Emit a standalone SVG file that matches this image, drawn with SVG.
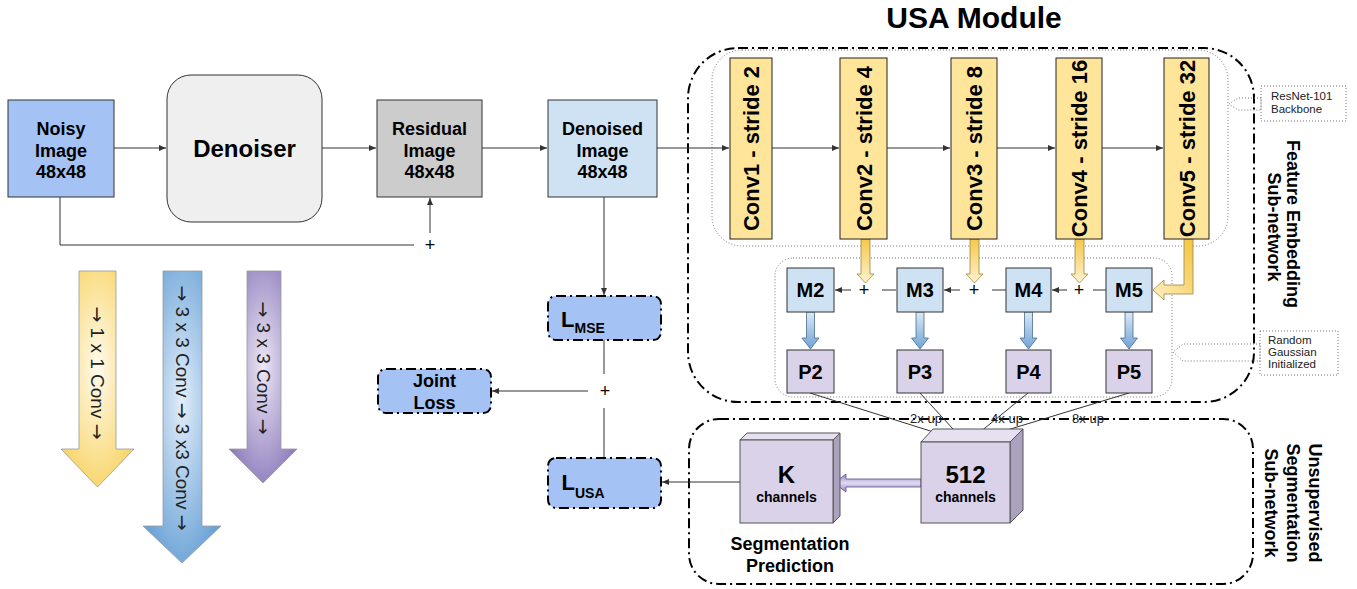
<svg xmlns="http://www.w3.org/2000/svg" width="1357" height="589" viewBox="0 0 1357 589">
<defs>
<style>
.box{stroke:#333;stroke-width:1}
.t{font-family:"Liberation Sans",Arial,sans-serif;font-weight:bold;text-anchor:middle;fill:#000}
.r{font-family:"Liberation Sans",Arial,sans-serif;fill:#222}
.plus{font-family:"Liberation Sans",Arial,sans-serif;fill:#000;font-size:18px;text-anchor:middle}
.arr{font-family:"DejaVu Sans",sans-serif}
.conn{stroke:#333;stroke-width:1;fill:none}
.dd{fill:none;stroke:#000;stroke-width:2;stroke-dasharray:10 4 2 4}
.dot{fill:none;stroke:#777;stroke-width:1;stroke-dasharray:1 2}
.lbox{fill:#a4c2f4;stroke:#000;stroke-width:2;stroke-dasharray:10 4 2 4}
.conv{fill:#ffe599;stroke:#222;stroke-width:1}
.m{fill:#cfe2f3;stroke:#333;stroke-width:1}
.p{fill:#d9d2e9;stroke:#333;stroke-width:1}
.ya{fill:url(#gy);stroke:#9a8540;stroke-width:0.8}
.ba{fill:url(#gb);stroke:#4a6d8c;stroke-width:0.8}
</style>
<marker id="ah" markerWidth="8" markerHeight="8" refX="7" refY="4" orient="auto" markerUnits="userSpaceOnUse"><path d="M0,1 L7,4 L0,7 z" fill="#333"/></marker>
<marker id="ah2" markerWidth="10" markerHeight="10" refX="9" refY="5" orient="auto" markerUnits="userSpaceOnUse"><path d="M0,1 L9,5 L0,9 z" fill="#000"/></marker>
<linearGradient id="gy" x1="0" y1="0" x2="0" y2="1"><stop offset="0" stop-color="#f5c84a"/><stop offset="1" stop-color="#fff3cf"/></linearGradient>
<linearGradient id="gy5" x1="1" y1="0" x2="0" y2="1"><stop offset="0" stop-color="#f4c542"/><stop offset="1" stop-color="#fff0c4"/></linearGradient>
<linearGradient id="gb" x1="0" y1="0" x2="0" y2="1"><stop offset="0" stop-color="#dde9f6"/><stop offset="1" stop-color="#6fa3d6"/></linearGradient>
<linearGradient id="gp" x1="0" y1="0" x2="0" y2="1"><stop offset="0" stop-color="#8e7cc3"/><stop offset="0.5" stop-color="#e2dcf1"/><stop offset="1" stop-color="#8e7cc3"/></linearGradient>
<radialGradient id="ly" cx="0.5" cy="0.45" r="0.6"><stop offset="0" stop-color="#fffbee"/><stop offset="1" stop-color="#f8d466"/></radialGradient>
<radialGradient id="lb" cx="0.5" cy="0.45" r="0.6"><stop offset="0" stop-color="#e3eefa"/><stop offset="1" stop-color="#6aa2d6"/></radialGradient>
<radialGradient id="lp" cx="0.5" cy="0.45" r="0.6"><stop offset="0" stop-color="#ece7f5"/><stop offset="1" stop-color="#8f7dbd"/></radialGradient>
</defs>
<rect width="1357" height="589" fill="#fff"/>

<text class="t" x="974" y="28" font-size="30">USA Module</text>

<!-- containers -->
<g id="feature-embedding">
<rect class="dd" x="688" y="48" width="566" height="354" rx="50"/>
<text class="t" font-size="18" transform="translate(1287,224) rotate(90)">Feature Embedding</text>
<text class="t" font-size="18" transform="translate(1268,227) rotate(90)">Sub-network</text>
</g>
<g id="resnet-backbone">
<rect class="dot" x="712" y="50" width="516" height="196" rx="30"/>
<rect class="dot" x="1261" y="86" width="85" height="35"/>
<polygon class="dot" points="1261,98 1238,98 1229,104 1238,110 1261,110"/>
<text class="r" x="1271" y="100" font-size="11.5">ResNet-101</text>
<text class="r" x="1271" y="113" font-size="11.5">Backbone</text>
</g>
<g id="random-gaussian">
<rect class="dot" x="775" y="258" width="397" height="139" rx="18"/>
<rect class="dot" x="1260" y="331" width="78" height="44"/>
<polygon class="dot" points="1260,344 1183,344 1173,352 1183,361 1260,361"/>
<text class="r" x="1268" y="344" font-size="11.5">Random</text>
<text class="r" x="1268" y="356" font-size="11.5">Gaussian</text>
<text class="r" x="1268" y="368" font-size="11.5">Initialized</text>
</g>
<g id="segmentation-subnetwork">
<rect class="dd" x="689" y="419" width="564" height="165" rx="30"/>
<text class="t" font-size="18" transform="translate(1309,503) rotate(90)">Unsupervised</text>
<text class="t" font-size="18" transform="translate(1287,503) rotate(90)">Segmentation</text>
<text class="t" font-size="18" transform="translate(1265,503) rotate(90)">Sub-network</text>
</g>

<!-- connectors -->
<g id="connectors">
<line class="conn" x1="114" y1="148" x2="166" y2="148" marker-end="url(#ah)"/>
<line class="conn" x1="322" y1="148" x2="376" y2="148" marker-end="url(#ah)"/>
<line class="conn" x1="482" y1="148" x2="547" y2="148" marker-end="url(#ah)"/>
<line class="conn" x1="657" y1="148" x2="729" y2="148" marker-end="url(#ah)"/>
<line class="conn" x1="772" y1="148" x2="839" y2="148" marker-end="url(#ah)"/>
<line class="conn" x1="887" y1="148" x2="950" y2="148" marker-end="url(#ah)"/>
<line class="conn" x1="997" y1="148" x2="1055" y2="148" marker-end="url(#ah)"/>
<line class="conn" x1="1102" y1="148" x2="1163" y2="148" marker-end="url(#ah)"/>
<polyline class="conn" points="60,197 60,245 414,245"/>
<text class="plus" x="430" y="251">+</text>
<line class="conn" x1="430" y1="233" x2="430" y2="198" marker-end="url(#ah)"/>
<line class="conn" x1="604" y1="197" x2="604" y2="295" marker-end="url(#ah)"/>
<line class="conn" x1="604" y1="340" x2="604" y2="374"/>
<text class="plus" x="605" y="397">+</text>
<line class="conn" x1="604" y1="408" x2="604" y2="458"/>
<line class="conn" x1="588" y1="391" x2="492" y2="391" marker-end="url(#ah)"/>
<line class="conn" x1="740" y1="482" x2="662" y2="482" marker-end="url(#ah)"/>
<!-- yellow lateral arrows -->
<polygon class="ya" points="861,239 870,239 870,274 874,274 865.5,283 857,274 861,274"/>
<polygon class="ya" points="970,239 979,239 979,274 983,274 974.5,283 966,274 970,274"/>
<polygon class="ya" points="1075,239 1084,239 1084,274 1088,274 1079.5,283 1071,274 1075,274"/>
<polygon fill="url(#gy5)" stroke="#9a8540" stroke-width="0.8" points="1184,239 1193,239 1193,294 1164,294 1164,300 1153,290 1164,280 1164,285 1184,285"/>
<!-- top-down pathway -->
<line class="conn" x1="896" y1="290" x2="882" y2="290"/>
<text class="plus" x="864" y="296">+</text>
<line class="conn" x1="851" y1="290" x2="835" y2="290" marker-end="url(#ah)"/>
<line class="conn" x1="1006" y1="290" x2="992" y2="290"/>
<text class="plus" x="974" y="296">+</text>
<line class="conn" x1="960" y1="290" x2="944" y2="290" marker-end="url(#ah)"/>
<line class="conn" x1="1106" y1="290" x2="1093" y2="290"/>
<text class="plus" x="1079" y="296">+</text>
<line class="conn" x1="1067" y1="290" x2="1052" y2="290" marker-end="url(#ah)"/>
<!-- M to P -->
<polygon class="ba" points="806.5,312 814.5,312 814.5,338 819,338 810.5,349 802,338 806.5,338"/>
<polygon class="ba" points="916,312 924,312 924,338 928.5,338 920,349 911.5,338 916,338"/>
<polygon class="ba" points="1024.5,312 1032.5,312 1032.5,338 1037,338 1028.5,349 1020,338 1024.5,338"/>
<polygon class="ba" points="1125,312 1133,312 1133,338 1137.5,338 1129,349 1120.5,338 1125,338"/>
<!-- P to 512 -->
<line class="conn" stroke="#000" x1="810" y1="393" x2="962" y2="441" marker-end="url(#ah2)"/>
<line class="conn" stroke="#000" x1="920" y1="393" x2="964" y2="441" marker-end="url(#ah2)"/>
<line class="conn" stroke="#000" x1="1028" y1="393" x2="969" y2="441" marker-end="url(#ah2)"/>
<line class="conn" stroke="#000" x1="1129" y1="393" x2="971" y2="441" marker-end="url(#ah2)"/>
<text class="r" x="926" y="423" font-size="13" text-anchor="middle">2x up</text>
<text class="r" x="1007" y="423" font-size="13" text-anchor="middle">4x up</text>
<text class="r" x="1088" y="423" font-size="13" text-anchor="middle">8x up</text>
<!-- 512 to K -->
<polygon fill="url(#gp)" stroke="#5e4f8c" stroke-width="0.8" points="921,479 846,479 846,474 834,483 846,492 846,487 921,487"/>
</g>

<!-- nodes -->
<g id="noisy-image">
<rect class="box" x="8" y="100" width="106" height="97" fill="#a4c2f4"/>
<text class="t" x="61" y="135" font-size="18">Noisy</text>
<text class="t" x="61" y="157" font-size="18">Image</text>
<text class="t" x="61" y="178" font-size="18">48x48</text>
</g>
<g id="denoiser">
<rect class="box" x="167" y="75" width="155" height="147" rx="24" fill="#efefef"/>
<text class="t" x="244.5" y="157" font-size="24">Denoiser</text>
</g>
<g id="residual-image">
<rect class="box" x="377" y="100" width="105" height="97" fill="#cccccc"/>
<text class="t" x="429.5" y="135" font-size="18">Residual</text>
<text class="t" x="429.5" y="157" font-size="18">Image</text>
<text class="t" x="429.5" y="178" font-size="18">48x48</text>
</g>
<g id="denoised-image">
<rect class="box" x="548" y="100" width="109" height="97" fill="#cfe2f3"/>
<text class="t" x="602.5" y="135" font-size="18">Denoised</text>
<text class="t" x="602.5" y="157" font-size="18">Image</text>
<text class="t" x="602.5" y="178" font-size="18">48x48</text>
</g>

<g id="legend-1x1">
<polygon fill="url(#ly)" stroke="#999" stroke-width="0.8" points="79,271 116,271 116,449 134,449 97.5,487 61,449 79,449"/>
<text class="r" font-size="19" text-anchor="middle" transform="translate(90.5,373) rotate(90)"><tspan class="arr">→</tspan> 1 x 1 Conv <tspan class="arr">→</tspan></text>
</g>
<g id="legend-3x3-3x3">
<polygon fill="url(#lb)" stroke="#999" stroke-width="0.8" points="163,271 202,271 202,526 221,526 182,563 143,526 163,526"/>
<text class="r" font-size="19" text-anchor="middle" transform="translate(175.5,408) rotate(90)"><tspan class="arr">→</tspan> 3 x 3 Conv <tspan class="arr">→</tspan> 3 x3 Conv <tspan class="arr">→</tspan></text>
</g>
<g id="legend-3x3">
<polygon fill="url(#lp)" stroke="#999" stroke-width="0.8" points="247,271 281,271 281,449 297,449 263,483 229,449 247,449"/>
<text class="r" font-size="19" text-anchor="middle" transform="translate(257,368) rotate(90)"><tspan class="arr">→</tspan> 3 x 3 Conv <tspan class="arr">→</tspan></text>
</g>

<g id="l-mse">
<rect class="lbox" x="548" y="296" width="113" height="44" rx="8"/>
<text class="t" x="583" y="327" font-size="22" text-anchor="start">L<tspan font-size="14" dy="6">MSE</tspan></text>
</g>
<g id="joint-loss">
<rect class="lbox" x="378" y="369" width="113" height="44" rx="8"/>
<text class="t" x="434.5" y="387" font-size="18">Joint</text>
<text class="t" x="434.5" y="409" font-size="18">Loss</text>
</g>
<g id="l-usa">
<rect class="lbox" x="548" y="458" width="113" height="50" rx="8"/>
<text class="t" x="583" y="490" font-size="22" text-anchor="start">L<tspan font-size="14" dy="8">USA</tspan></text>
</g>

<g id="conv1">
<rect class="conv" x="730" y="58" width="42" height="181"/>
<text class="t" font-size="22" transform="translate(759,148.5) rotate(-90)">Conv1 - stride 2</text>
</g>
<g id="conv2">
<rect class="conv" x="840" y="58" width="47" height="181"/>
<text class="t" font-size="22" transform="translate(871.5,148.5) rotate(-90)">Conv2 - stride 4</text>
</g>
<g id="conv3">
<rect class="conv" x="951" y="58" width="46" height="181"/>
<text class="t" font-size="22" transform="translate(982,148.5) rotate(-90)">Conv3 - stride 8</text>
</g>
<g id="conv4">
<rect class="conv" x="1056" y="58" width="46" height="181"/>
<text class="t" font-size="22" transform="translate(1087,148.5) rotate(-90)">Conv4 - stride 16</text>
</g>
<g id="conv5">
<rect class="conv" x="1164" y="58" width="45" height="181"/>
<text class="t" font-size="22" transform="translate(1194.5,148.5) rotate(-90)">Conv5 - stride 32</text>
</g>

<g id="m2"><rect class="m" x="787" y="268" width="47" height="44"/><text class="t" x="810.5" y="297" font-size="20">M2</text></g>
<g id="m3"><rect class="m" x="897" y="268" width="46" height="44"/><text class="t" x="920" y="297" font-size="20">M3</text></g>
<g id="m4"><rect class="m" x="1006" y="268" width="45" height="44"/><text class="t" x="1028.5" y="297" font-size="20">M4</text></g>
<g id="m5"><rect class="m" x="1106" y="268" width="46" height="44"/><text class="t" x="1129" y="297" font-size="20">M5</text></g>
<g id="p2"><rect class="p" x="787" y="350" width="47" height="43"/><text class="t" x="810.5" y="379" font-size="20">P2</text></g>
<g id="p3"><rect class="p" x="897" y="350" width="46" height="43"/><text class="t" x="920" y="379" font-size="20">P3</text></g>
<g id="p4"><rect class="p" x="1006" y="350" width="45" height="43"/><text class="t" x="1028.5" y="379" font-size="20">P4</text></g>
<g id="p5"><rect class="p" x="1106" y="350" width="46" height="43"/><text class="t" x="1129" y="379" font-size="20">P5</text></g>

<g id="k-channels">
<polygon points="740,440 747,433 840,433 833,440" fill="#e6e1f1" stroke="#555" stroke-width="1"/>
<polygon points="833,440 840,433 840,516 833,523" fill="#aaa2bf" stroke="#555" stroke-width="1"/>
<rect x="740" y="440" width="93" height="83" fill="#d9d2e9" stroke="#555" stroke-width="1"/>
<text class="t" x="786.5" y="483" font-size="24">K</text>
<text class="t" x="786.5" y="502" font-size="14">channels</text>
<text class="t" x="790" y="550" font-size="18">Segmentation</text>
<text class="t" x="790" y="572" font-size="18">Prediction</text>
</g>
<g id="c512-channels">
<polygon points="921,442 933,429 1023,429 1010,442" fill="#e6e1f1" stroke="#555" stroke-width="1"/>
<polygon points="1010,442 1023,429 1023,510 1010,523" fill="#aaa2bf" stroke="#555" stroke-width="1"/>
<rect x="921" y="442" width="89" height="81" fill="#d9d2e9" stroke="#555" stroke-width="1"/>
<text class="t" x="965.5" y="483" font-size="24">512</text>
<text class="t" x="965.5" y="502" font-size="14">channels</text>
</g>
</svg>
